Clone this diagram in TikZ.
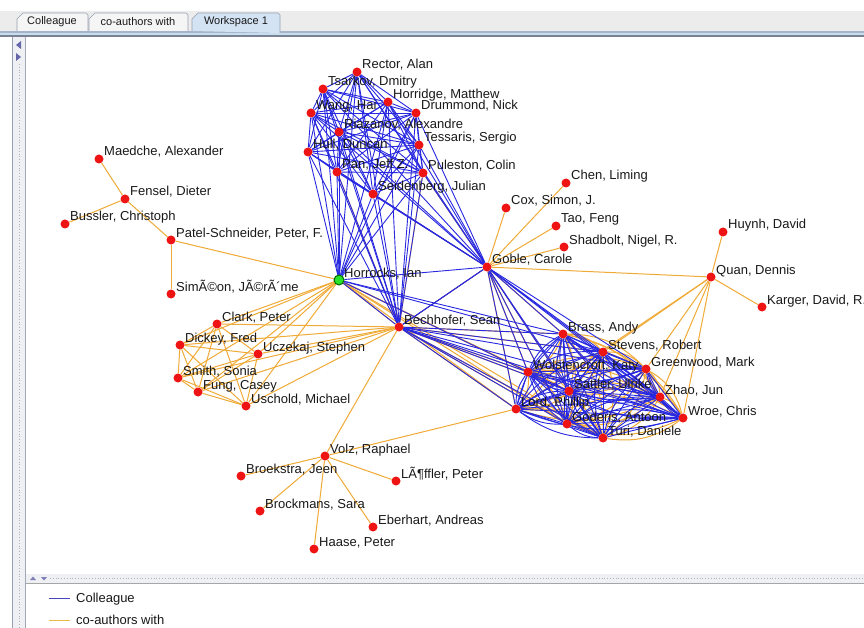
\documentclass[tikz,border=0pt]{standalone}
\usepackage{fontspec}
\setmainfont{Liberation Sans}
\pgfdeclarelayer{back}
\pgfdeclarelayer{edges}
\pgfsetlayers{back,edges,main}
\definecolor{cblue}{RGB}{40,40,225}
\definecolor{corange}{RGB}{240,170,55}
\definecolor{cred}{RGB}{238,20,20}
\definecolor{cgreen}{RGB}{40,225,40}
\definecolor{ctext}{RGB}{25,25,25}
\definecolor{tabgray}{RGB}{236,236,236}
\definecolor{tabsel}{RGB}{212,227,244}
\definecolor{tabborder}{RGB}{150,160,175}
\definecolor{lineA}{RGB}{165,180,200}
\definecolor{lineB}{RGB}{200,222,238}
\definecolor{lineC}{RGB}{120,130,148}
\definecolor{barfill}{RGB}{238,240,244}
\definecolor{legblue}{RGB}{70,70,190}
\definecolor{legorange}{RGB}{235,185,70}
\tikzset{
  dot/.style={circle, fill=cred, inner sep=0pt, minimum size=9pt},
  hub/.style={circle, fill=cgreen, draw=black!60!green, line width=1pt, inner sep=0pt, minimum size=10pt},
  lab/.style={anchor=base west, inner sep=0pt, text=ctext, font=\fontsize{13}{15}\selectfont},
  tabtext/.style={inner sep=0pt, text=ctext, font=\fontsize{11}{13}\selectfont},
  bedge/.style={draw=cblue, line width=0.9pt},
  oedge/.style={draw=corange, line width=1pt},
  tabshape/.style={draw=tabborder, line width=0.6pt},
}
\newcommand\pers[5][dot]{\node[#1] (#2) at (#3,#4) {}; \node[lab] (#2L) at ({#3+5},{#4-3}) {#5};}
\def\Tlist{rector,tsarkov,horridge,drummond,wang,riazanov,tessaris,hull,pan,puleston,seidenberg,horrocks,bechhofer,goble}
\def\Llist{bechhofer,goble,brass,stevens,wolst,greenwood,sattler,zhao,lord,wroe,goderis,turi}
\def\Lcore{brass,stevens,wolst,greenwood,sattler,zhao,lord,wroe,goderis,turi}
\def\Clist{clark,dickey,uczekaj,smith,fung,uschold}
\begin{document}
\begin{tikzpicture}[x=1pt, y=-1pt]
\useasboundingbox (0,0) rectangle (864,628);
% ---------- frame ----------
\begin{pgfonlayer}{back}
\fill[white] (0,0) rectangle (864,628);
\fill[tabgray] (0,11) rectangle (864,31);
\fill[lineA] (0,31) rectangle (864,33);
\fill[lineB] (0,33) rectangle (864,35);
\fill[lineC] (0,35) rectangle (864,37);
% tabs
\filldraw[tabshape, fill=white!50!tabgray] (17,31) -- (17,19) -- (23,13) -- (86,13) -- (88,15) -- (88,31);
\filldraw[tabshape, fill=white!50!tabgray] (89,31) -- (89,19) -- (95,13) -- (186,13) -- (188,15) -- (188,31);
\filldraw[tabshape, fill=tabsel] (192,31) -- (192,19) -- (198,13) -- (278,13) -- (280,15) -- (280,33);
\node[tabtext] (tab1) at (52,22) {Colleague};
\node[tabtext] (tab2) at (138,22) {co-authors with};
\node[tabtext] (tab3) at (236,22) {Workspace 1};
% left bar
\fill[barfill] (13,37) rectangle (25,628);
\draw[tabborder, line width=0.8pt] (12.5,37) -- (12.5,628);
\draw[lineC!70, line width=0.8pt] (25.5,37) -- (25.5,628);
\draw[black!30, line width=0.8pt, dotted] (19,64) -- (19,628);
\fill[black!55!blue!60] (16,45) -- (21,41) -- (21,49) -- cycle;
\fill[black!55!blue!60] (21,57) -- (16,53) -- (16,61) -- cycle;
% bottom separator
\fill[barfill] (26,574) rectangle (864,583);
\draw[black!30, line width=0.8pt, dotted] (50,578.5) -- (864,578.5);
\draw[black!35, line width=0.6pt] (26,583.5) -- (864,583.5);
\fill[black!55!blue!50] (30,580) -- (36,580) -- (33,576.5) -- cycle;
\fill[black!55!blue!50] (41,577) -- (47,577) -- (44,580.5) -- cycle;
% legend
\coordinate (lb1) at (49,598); \coordinate (lb2) at (70,598);
\coordinate (lo1) at (49,620); \coordinate (lo2) at (70,620);
\draw[legblue, line width=1pt] (lb1) -- (lb2);
\draw[legorange, line width=1pt] (lo1) -- (lo2);
\node[lab] (legb) at (76,602) {Colleague};
\node[lab] (lego) at (76,624) {co-authors with};
\end{pgfonlayer}
% ---------- persons ----------
\pers{rector}{357}{72}{Rector, Alan}
\pers{tsarkov}{323}{89}{Tsarkov, Dmitry}
\pers{horridge}{388}{102}{Horridge, Matthew}
\pers{drummond}{416}{113}{Drummond, Nick}
\pers{wang}{311}{113}{Wang, Hai}
\pers{riazanov}{339}{132}{Riazanov, Alexandre}
\pers{tessaris}{419}{145}{Tessaris, Sergio}
\pers{hull}{308}{152}{Hull, Duncan}
\pers{pan}{337}{172}{Pan, Jeff Z.}
\pers{puleston}{423}{173}{Puleston, Colin}
\pers{seidenberg}{373}{194}{Seidenberg, Julian}
\pers{cox}{506}{208}{Cox, Simon, J.}
\pers{chen}{566}{183}{Chen, Liming}
\pers{tao}{556}{226}{Tao, Feng}
\pers{shadbolt}{564}{247}{Shadbolt, Nigel, R.}
\pers{goble}{487}{267}{Goble, Carole}
\pers{huynh}{723}{232}{Huynh, David}
\pers{quan}{711}{277}{Quan, Dennis}
\pers{karger}{762}{307}{Karger, David, R.}
\pers{maedche}{99}{159}{Maedche, Alexander}
\pers{fensel}{125}{199}{Fensel, Dieter}
\pers{bussler}{65}{224}{Bussler, Christoph}
\pers{patel}{171}{240}{Patel-Schneider, Peter, F.}
\pers{simeon}{171}{294}{SimÃ©on, JÃ©rÃ´me}
\pers[hub]{horrocks}{339}{280}{Horrocks, Ian}
\pers{clark}{217}{324}{Clark, Peter}
\pers{dickey}{180}{345}{Dickey, Fred}
\pers{uczekaj}{258}{354}{Uczekaj, Stephen}
\pers{smith}{178}{378}{Smith, Sonia}
\pers{fung}{198}{392}{Fung, Casey}
\pers{uschold}{246}{406}{Uschold, Michael}
\pers{bechhofer}{399}{327}{Bechhofer, Sean}
\pers{brass}{563}{334}{Brass, Andy}
\pers{stevens}{603}{352}{Stevens, Robert}
\pers{wolst}{528}{372}{Wolstencroft, Katy}
\pers{greenwood}{646}{369}{Greenwood, Mark}
\pers{sattler}{569}{391}{Sattler, Ulrike}
\pers{zhao}{660}{397}{Zhao, Jun}
\pers{lord}{516}{409}{Lord, Phillip}
\pers{wroe}{683}{418}{Wroe, Chris}
\pers{goderis}{567}{424}{Goderis, Antoon}
\pers{turi}{603}{438}{Turi, Daniele}
\pers{volz}{325}{456}{Volz, Raphael}
\pers{broekstra}{241}{476}{Broekstra, Jeen}
\pers{loffler}{396}{481}{LÃ¶ffler, Peter}
\pers{brockmans}{260}{511}{Brockmans, Sara}
\pers{eberhart}{373}{527}{Eberhart, Andreas}
\pers{haase}{314}{549}{Haase, Peter}
% ---------- connectors ----------
\begin{pgfonlayer}{edges}
% co-authors with (orange)
\foreach \a/\b in {fensel/maedche, fensel/bussler, fensel/patel, patel/simeon, patel/horrocks,
  horrocks/bechhofer, bechhofer/goble,
  horrocks/lord, horrocks/goderis, horrocks/sattler, horrocks/wolst, horrocks/turi,
  bechhofer/lord, bechhofer/goderis, bechhofer/sattler, bechhofer/wolst, bechhofer/brass, bechhofer/stevens, bechhofer/turi,
  goble/lord, goble/wolst, goble/sattler, goble/goderis, goble/brass,
  goble/cox, goble/chen, goble/tao, goble/shadbolt, goble/quan,
  quan/huynh, quan/karger, quan/stevens, quan/greenwood, quan/zhao, quan/wroe, quan/lord,
  volz/broekstra, volz/loffler, volz/brockmans, volz/eberhart, volz/haase, volz/bechhofer, volz/lord,
  pan/bechhofer, puleston/goble, puleston/bechhofer, seidenberg/goble}
  {\draw[oedge] (\a) -- (\b);}
\foreach \a in \Clist {\draw[oedge] (horrocks) -- (\a); \draw[oedge] (bechhofer) -- (\a);}
\foreach \a [count=\i] in \Clist {\foreach \b [count=\j] in \Clist {\ifnum\j>\i \draw[oedge] (\a) -- (\b);\fi}}
\foreach \a [count=\i] in \Lcore {\foreach \b [count=\j] in \Lcore {\ifnum\j>\i \draw[oedge] (\a) to[bend left=22] (\b);\fi}}
% colleague (blue)
\foreach \a [count=\i] in \Tlist {\foreach \b [count=\j] in \Tlist {\ifnum\j>\i \draw[bedge] (\a) -- (\b);\fi}}
\foreach \a [count=\i] in \Llist {\foreach \b [count=\j] in \Llist {\ifnum\j>\i \draw[bedge] (\a) -- (\b);\fi}}
\foreach \a [count=\i] in \Lcore {\foreach \b [count=\j] in \Lcore {\ifnum\j>\i \draw[bedge] (\a) to[bend right=18] (\b);\fi}}
\foreach \a in {brass, stevens, wolst} {\draw[bedge] (horrocks) -- (\a);}
\end{pgfonlayer}
\end{tikzpicture}
\end{document}
